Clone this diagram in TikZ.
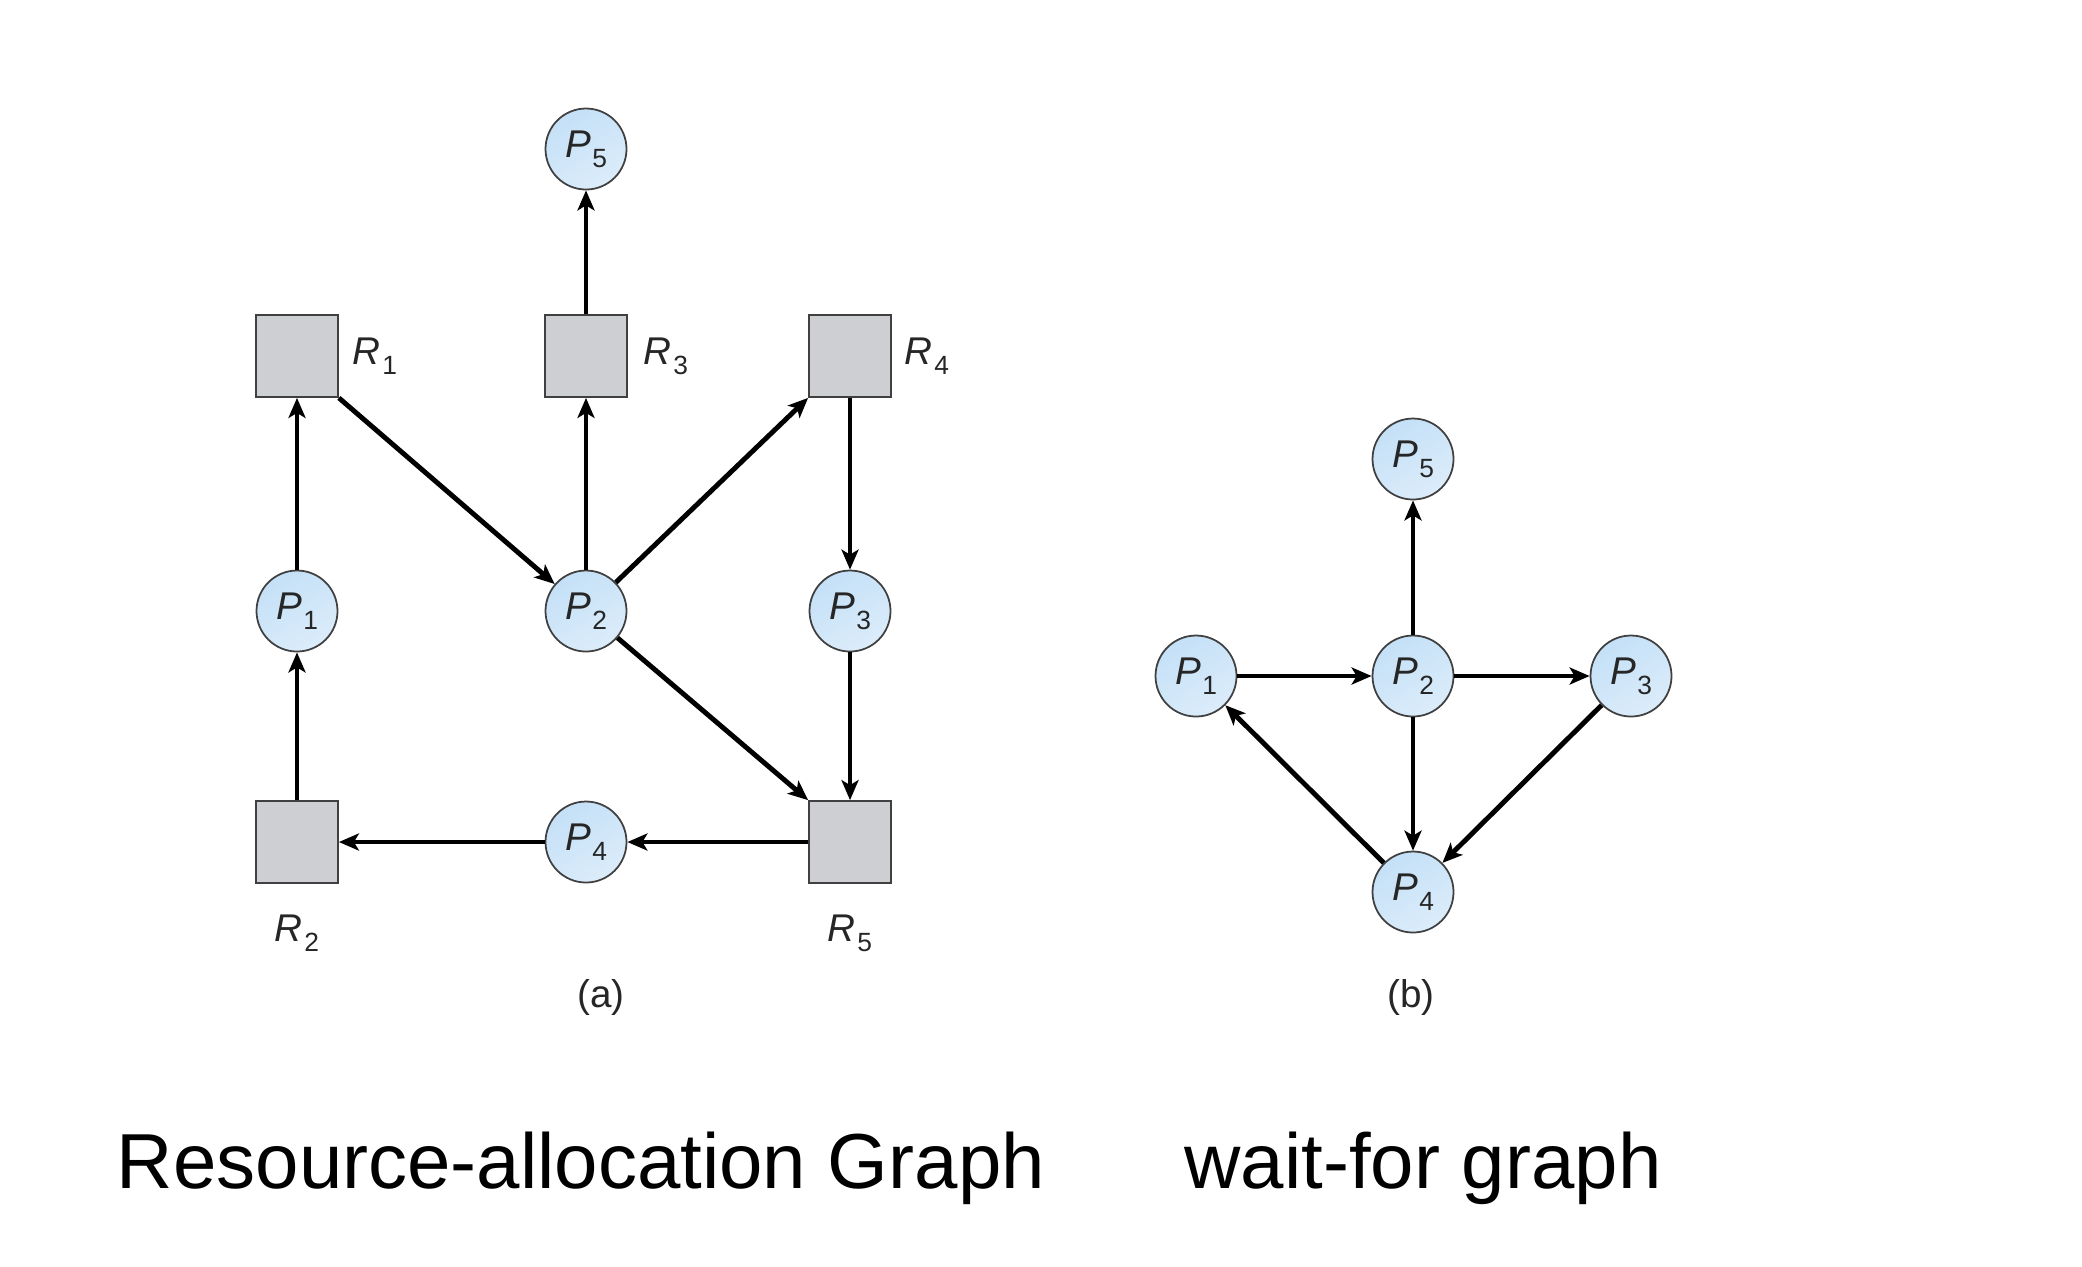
\documentclass[tikz,border=0pt]{standalone}
\usepackage{fontspec}
\setmainfont{Liberation Sans}
\usetikzlibrary{positioning}
\usetikzlibrary{arrows.meta}
\definecolor{procblue}{RGB}{196,224,247}
\definecolor{resgray}{RGB}{206,207,210}
\newcommand{\pname}[1]{\textit{P}\kern0.04em\raisebox{-0.1cm}{\fontsize{7.5}{8}\selectfont #1}}
\newcommand{\rname}[1]{\textit{R}\kern0.04em\raisebox{-0.1cm}{\fontsize{7.5}{8}\selectfont #1}}
\tikzset{
    process/.style = {circle, draw=black!75, line width=0.5pt, inner sep=0pt, minimum size=0.81cm,
        top color=procblue, bottom color=procblue!60!white, shading angle=30,
        font=\fontsize{11}{12}\selectfont, text=black!85},
    resource/.style = {rectangle, draw=black!75, line width=0.5pt, fill=resgray, minimum size=0.82cm},
    rlabel/.style = {font=\fontsize{11}{12}\selectfont, text=black!85},
    sub/.style = {font=\fontsize{11}{13}\selectfont, text=black!85},
    caption/.style = {font=\fontsize{22.2}{27}\selectfont, anchor=base}}

\begin{document}
\begin{tikzpicture}[-{Stealth[length=0.2cm, width=0.17cm, inset=0.05cm]}, node distance = 2.5cm and 2.5cm, on grid,
    line width=1.4pt
    ]
    \useasboundingbox (0,0) rectangle (20.82,-12.66);
    % (a) resource-allocation graph
    \node (R3) [resource] at (5.86,-3.56) {};
    \node (R1) [resource, left = 2.89cm of R3] {};
    \node (R4) [resource, right = 2.64cm of R3] {};
    \node (P5a) [process, above = 2.07cm of R3] {\pname{5}};
    \node (P2a) [process, below = 2.55cm of R3] {\pname{2}};
    \node (P1a) [process, below = 2.55cm of R1] {\pname{1}};
    \node (P3a) [process, below = 2.55cm of R4] {\pname{3}};
    \node (P4a) [process, below = 2.31cm of P2a] {\pname{4}};
    \node (R2) [resource, below = 2.31cm of P1a] {};
    \node (R5) [resource, below = 2.31cm of P3a] {};
    \node (R1l) [rlabel, right = 0.78cm of R1] {\rname{1}};
    \node (R3l) [rlabel, right = 0.8cm of R3] {\rname{3}};
    \node (R4l) [rlabel, right = 0.77cm of R4] {\rname{4}};
    \node (R2l) [rlabel, below = 0.91cm of R2] {\rname{2}};
    \node (R5l) [rlabel, below = 0.91cm of R5] {\rname{5}};
    \node (suba) [sub] at (6.01,-9.97) {(a)};
    \draw (P1a) -- (R1);
    \draw (R1.south east) -- (P2a);
    \draw (P2a) -- (R3);
    \draw (R3) -- (P5a);
    \draw (P2a) -- (R4.south west);
    \draw (R4) -- (P3a);
    \draw (P3a) -- (R5);
    \draw (P2a) -- (R5.north west);
    \draw (R5) -- (P4a);
    \draw (P4a) -- (R2);
    \draw (R2) -- (P1a);
    % (b) wait-for graph
    \node (P2b) [process] at (14.13,-6.76) {\pname{2}};
    \node (P1b) [process, left = 2.17cm of P2b] {\pname{1}};
    \node (P3b) [process, right = 2.18cm of P2b] {\pname{3}};
    \node (P5b) [process, above = 2.17cm of P2b] {\pname{5}};
    \node (P4b) [process, below = 2.16cm of P2b] {\pname{4}};
    \node (subb) [sub] at (14.11,-9.97) {(b)};
    \draw (P1b) -- (P2b);
    \draw (P2b) -- (P3b);
    \draw (P2b) -- (P5b);
    \draw (P2b) -- (P4b);
    \draw (P3b) -- (P4b);
    \draw (P4b) -- (P1b);
    % captions
    \node (capa) [caption] at (5.81,-11.88) {Resource-allocation Graph};
    \node (capb) [caption] at (14.23,-11.88) {wait-for graph};
\end{tikzpicture}
\end{document}
